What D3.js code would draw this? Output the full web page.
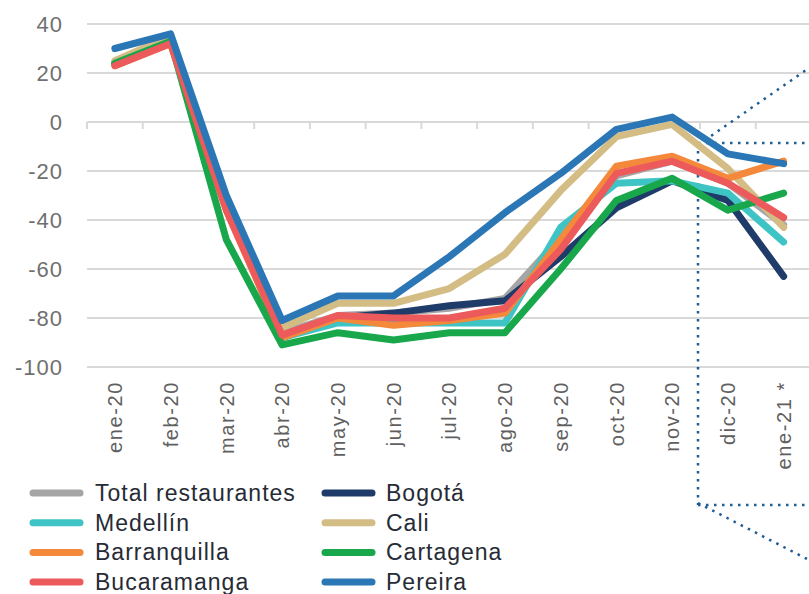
<!DOCTYPE html>
<html>
<head>
<meta charset="utf-8">
<script src="https://cdn.jsdelivr.net/npm/d3@7"></script>
<style>
  body { margin: 0; background: #fff; }
  text { font-family: "Liberation Sans", Arial, sans-serif; }
</style>
</head>
<body>
<script>
var months = ['ene-20', 'feb-20', 'mar-20', 'abr-20', 'may-20', 'jun-20', 'jul-20',
              'ago-20', 'sep-20', 'oct-20', 'nov-20', 'dic-20', 'ene-21 *'];
var yTicks = [40, 20, 0, -20, -40, -60, -80, -100];

var seriesNames = ['Total restaurantes', 'Bogotá', 'Medellín', 'Cali',
                   'Barranquilla', 'Cartagena', 'Bucaramanga', 'Pereira'];
var seriesColors = ['#a5a5a5', '#1f3b69', '#3fc4c5', '#d4bd84',
                    '#f4883b', '#18a84b', '#ec5a5b', '#2b77b6'];

var total        = [24, 33, -35, -86, -79, -78, -76, -72, -47, -22, -16, -25, -42];
var bogota       = [24, 33, -35, -88, -80, -78, -75, -73, -55, -35, -24, -32, -63];
var medellin     = [24, 33, -35, -88, -82, -82, -82, -82, -43, -25, -24, -29, -49];
var cali         = [25, 35, -32, -84, -74, -74, -68, -54, -28, -6, -1, -19, -43];
var barranquilla = [23, 32, -36, -88, -80, -83, -81, -78, -48, -18, -14, -23, -16];
var cartagena    = [24, 33, -48, -91, -86, -89, -86, -86, -60, -32, -23, -36, -29];
var bucaramanga  = [23, 32, -36, -87, -79, -80, -80, -76, -52, -21, -16, -25, -39];
var pereira      = [30, 36, -30, -81, -71, -71, -55, -37, -21, -3, 2, -13, -17];

var seriesValues = [total, bogota, medellin, cali, barranquilla, cartagena, bucaramanga, pereira];

var svg, x, y;

drawChart();

function drawChart() {
    svg = d3.select('body')
            .append('svg')
              .attr('width', 809)
              .attr('height', 594);

    x = d3.scaleBand()
          .domain(months)
          .range([87, 811.5]);

    y = d3.scaleLinear()
          .domain([-100, 40])
          .range([367, 24]);

    // horizontal gridlines
    svg.selectAll('line.grid')
      .data(yTicks)
      .enter()
      .append('line')
        .attr('class', 'grid')
        .attr('x1', 87)
        .attr('x2', 809)
        .attr('y1', function(d){ return y(d); })
        .attr('y2', function(d){ return y(d); })
        .attr('stroke', '#d9d9d9')
        .attr('stroke-width', 2);

    // little ticks on the zero line
    var tickPos = months.map(function(m){ return x(m); }).concat([x.range()[1]]);
    svg.selectAll('line.tick0')
      .data(tickPos)
      .enter()
      .append('line')
        .attr('x1', function(d){ return d; })
        .attr('x2', function(d){ return d; })
        .attr('y1', y(0))
        .attr('y2', y(0) + 7)
        .attr('stroke', '#d9d9d9')
        .attr('stroke-width', 2);

    // y labels
    svg.selectAll('text.ylab')
      .data(yTicks)
      .enter()
      .append('text')
        .attr('x', 63)
        .attr('y', function(d){ return y(d); })
        .attr('dy', '0.36em')
        .attr('text-anchor', 'end')
        .attr('font-size', 22)
        .attr('letter-spacing', 1)
        .attr('fill', '#707070')
        .text(function(d){ return d; });

    // x labels, rotated
    svg.selectAll('text.xlab')
      .data(months)
      .enter()
      .append('text')
        .attr('transform', function(d){
          return 'translate(' + (x(d) + x.bandwidth() / 2) + ',381) rotate(-90)';
        })
        .attr('dy', '0.36em')
        .attr('text-anchor', 'end')
        .attr('font-size', 20)
        .attr('letter-spacing', 1.6)
        .attr('fill', '#5f5f5f')
        .text(function(d){ return d; });

    // callout dotted lines
    var dotted = [
      [698, 143, 809, 143],
      [698, 143, 698, 505],
      [698, 505, 809, 505],
      [698, 145, 809, 68],
      [698, 503, 809, 560]
    ];
    svg.selectAll('line.callout')
      .data(dotted)
      .enter()
      .append('line')
        .attr('x1', function(d){ return d[0]; })
        .attr('y1', function(d){ return d[1]; })
        .attr('x2', function(d){ return d[2]; })
        .attr('y2', function(d){ return d[3]; })
        .attr('stroke', '#1f5b94')
        .attr('stroke-width', 2.5)
        .attr('stroke-dasharray', '2.5 5.5');

    var line = d3.line()
                 .x(function(d, i){ return x(months[i]) + x.bandwidth() / 2; })
                 .y(function(d){ return y(d); });

    svg.selectAll('path.series')
      .data(seriesValues)
      .enter()
      .append('path')
        .attr('d', line)
        .attr('fill', 'none')
        .attr('stroke', function(d, i){ return seriesColors[i]; })
        .attr('stroke-width', 7)
        .attr('stroke-linejoin', 'round')
        .attr('stroke-linecap', 'round');

    // legend, two columns
    var legend = svg.selectAll('g.legend')
      .data(seriesNames)
      .enter()
      .append('g')
        .attr('transform', function(d, i){
          var col = i % 2;
          var row = Math.floor(i / 2);
          return 'translate(' + (col ? 322 : 30) + ',' + (501 + row * 29.7) + ')';
        });

    legend.append('line')
        .attr('x1', 3)
        .attr('x2', 50)
        .attr('y1', -8)
        .attr('y2', -8)
        .attr('stroke', function(d, i){ return seriesColors[i]; })
        .attr('stroke-width', 7)
        .attr('stroke-linecap', 'round');

    legend.append('text')
        .attr('x', function(d, i){ return i % 2 ? 64 : 65; })
        .attr('font-size', 23)
        .attr('letter-spacing', 1)
        .attr('fill', '#262b35')
        .text(function(d){ return d; });
}
</script>
</body>
</html>
